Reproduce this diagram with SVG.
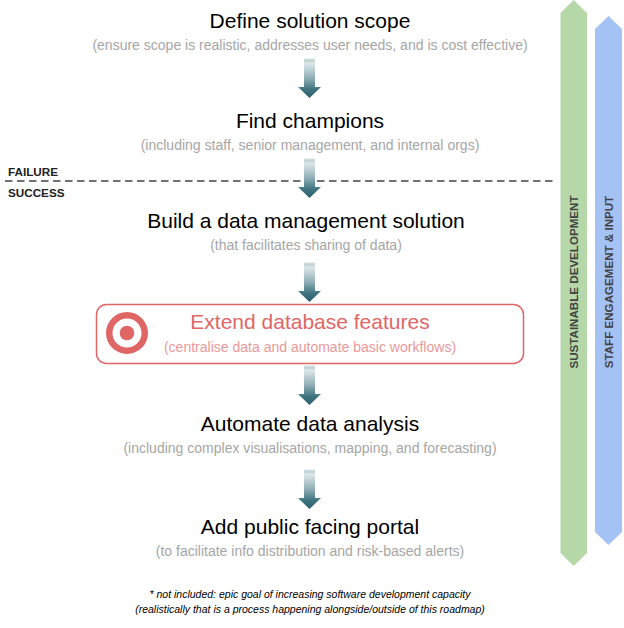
<svg xmlns="http://www.w3.org/2000/svg" width="624" height="628" viewBox="0 0 624 628">
<style>
text{font-family:"Liberation Sans",Arial,sans-serif;text-anchor:middle}
.t{font-size:21px;fill:#000}
.s{font-size:14.03px;fill:#a6a6a6}
.k{font-size:11.7px;font-weight:bold;fill:#222;text-anchor:start}
.v{font-size:11.6px;font-weight:bold;fill:#434343}
.n{font-size:10.500px;font-style:italic;fill:#000}
</style>
<defs>
<linearGradient id="g" x1="0" y1="0" x2="0" y2="1"><stop offset="0" stop-color="#2f6470" stop-opacity="0"/><stop offset="0.12" stop-color="#dfe8ea"/><stop offset="0.5" stop-color="#90afb5"/><stop offset="0.78" stop-color="#3f7480"/><stop offset="1" stop-color="#2a5f6b"/></linearGradient>
<path id="a" d="M304 0H315V29H321L309.500 40L298 29H304Z" fill="url(#g)"/>
</defs>
<g id="bars">
<path id="bar-green" d="M560.500 13L573.700 0L587 13V553L573.700 566L560.500 553Z" fill="#b6d7a8"/>
<path id="bar-blue" d="M595 29L608.500 16L622 29V532L608.500 545L595 532Z" fill="#a4c2f4"/>
<text class="v" transform="translate(578 282) rotate(-90)">SUSTAINABLE DEVELOPMENT</text>
<text class="v" transform="translate(613 282) rotate(-90)">STAFF ENGAGEMENT &amp; INPUT</text>
</g>
<g id="connectors">
<line x1="5" y1="181" x2="554" y2="181" stroke="#434343" stroke-width="1.500" stroke-dasharray="7.500 4.500"/>
<use href="#a" y="58"/>
<use href="#a" y="158"/>
<use href="#a" y="262"/>
<use href="#a" y="365"/>
<use href="#a" y="469"/>
</g>
<g id="n1"><text class="t" x="310" y="28">Define solution scope</text><text class="s" x="310" y="50">(ensure scope is realistic, addresses user needs, and is cost effective)</text></g>
<g id="n2"><text class="t" x="310" y="128">Find champions</text><text class="s" x="310" y="150">(including staff, senior management, and internal orgs)</text></g>
<g id="labels"><text class="k" x="8" y="176">FAILURE</text><text class="k" x="8" y="197">SUCCESS</text></g>
<g id="n3"><text class="t" x="306" y="228">Build a data management solution</text><text class="s" x="306" y="250">(that facilitates sharing of data)</text></g>
<g id="n4"><rect x="96.500" y="304.500" width="427" height="59" rx="10" fill="#fff" stroke="#e06666" stroke-width="1.500"/>
<circle cx="127" cy="333" r="17.750" fill="none" stroke="#e06666" stroke-width="6.500"/><circle cx="127" cy="333" r="7.300" fill="#e06666"/>
<text class="t" x="310" y="329" style="fill:#e06666">Extend database features</text><text class="s" x="310" y="352" style="fill:#ea9999">(centralise data and automate basic workflows)</text></g>
<g id="n5"><text class="t" x="310" y="431">Automate data analysis</text><text class="s" x="310" y="453">(including complex visualisations, mapping, and forecasting)</text></g>
<g id="n6"><text class="t" x="310" y="534">Add public facing portal</text><text class="s" x="310" y="556">(to facilitate info distribution and risk-based alerts)</text></g>
<g id="note"><text class="n" x="310" y="598">* not included: epic goal of increasing software development capacity</text><text class="n" x="310" y="613">(realistically that is a process happening alongside/outside of this roadmap)</text></g>
</svg>
